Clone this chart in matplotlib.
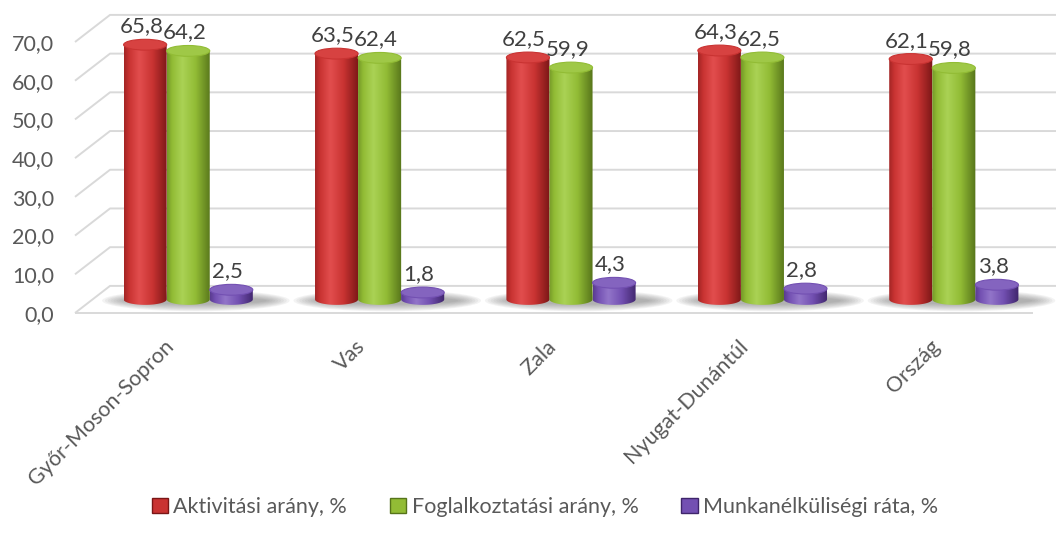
import numpy as np
import matplotlib
matplotlib.use("Agg")
import matplotlib.pyplot as plt
from matplotlib.patches import Ellipse, Patch, PathPatch
from matplotlib.path import Path
from matplotlib.colors import LinearSegmentedColormap, to_rgb
from matplotlib.transforms import ScaledTranslation

categories = ["Győr-Moson-Sopron", "Vas", "Zala", "Nyugat-Dunántúl", "Ország"]
aktivitasi = [65.8, 63.5, 62.5, 64.3, 62.1]
foglalkoztatasi = [64.2, 62.4, 59.9, 62.5, 59.8]
munkanelkuli = [2.5, 1.8, 4.3, 2.8, 3.8]
series_names = ["Aktivitási arány, %", "Foglalkoztatási arány, %", "Munkanélküliségi ráta, %"]
y_ticks = [0, 10, 20, 30, 40, 50, 60, 70]

# (dark edge, body, highlight) per series
shades = [
    ("#7a1616", "#c93332", "#e24e4e"),
    ("#56741a", "#92bc35", "#aad255"),
    ("#3f256b", "#7350b2", "#9275c9"),
]

plt.rcParams["font.family"] = ["Lato", "DejaVu Sans"]
TXT = "#595959"

W, H = 1056, 546
fig = plt.figure(figsize=(W / 100, H / 100), dpi=100)

# pixel frame of the front floor: categories 0..5 -> x 75..1032, values 0..70 -> y 313..42
px_cat = (1032 - 75) / 5
px_val = (313 - 42) / 70
XL = (0, 5.25)
YL = (-5, 78)
left = 75 + XL[0] * px_cat
right = 75 + XL[1] * px_cat
bot = 313 - YL[0] * px_val
top = 313 - YL[1] * px_val
ax = fig.add_axes([left / W, 1 - bot / H, (right - left) / W, (bot - top) / H])
ax.set_xlim(*XL)
ax.set_ylim(*YL)

DX, DY = 0.183, 7.0   # depth offset of the back wall
BW = 0.225            # bar width
EH = 2.8              # ellipse height (value units)

# grid: front diagonal + back wall line
for v in y_ticks:
    ax.plot([0, DX, 5 + DX + 0.2], [v, v + DY, v + DY], color="#d9d9d9", lw=1.4,
            zorder=1, clip_on=False, solid_capstyle="butt")
ax.plot([0, 5], [0, 0], color="#d9d9d9", lw=1.4, zorder=1)


def mix(c1, c2, f):
    a, b = np.array(to_rgb(c1)), np.array(to_rgb(c2))
    return tuple(a * (1 - f) + b * f)


def cylinder(xc, base, height, shade, z):
    dark, mid, light = shade
    x0, x1 = xc - BW / 2, xc + BW / 2
    tp = base + height
    cmap = LinearSegmentedColormap.from_list(
        "cyl", [(0, mix(dark, mid, 0.5)), (0.12, mid), (0.35, light), (0.65, mid), (1, dark)])
    grad = np.linspace(0, 1, 256)[None, :]
    im = ax.imshow(grad, extent=[x0, x1, base - EH, tp], cmap=cmap, aspect="auto",
                   interpolation="bicubic", zorder=z)
    t = np.linspace(np.pi, 2 * np.pi, 40)
    verts = [(x0, tp)] + list(zip(xc + BW / 2 * np.cos(t), base + EH / 2 * np.sin(t))) + [(x1, tp), (x0, tp)]
    clip = PathPatch(Path(verts), transform=ax.transData)
    im.set_clip_path(clip)
    ax.add_patch(Ellipse((xc, tp), BW, EH, facecolor=mix(mid, light, 0.55),
                         edgecolor=mid, lw=0.8, zorder=z + 0.1))


series = [aktivitasi, foglalkoztatasi, munkanelkuli]
base = DY / 2
for i, cat in enumerate(categories):
    gc = i + 0.5 + DX / 2
    # soft floor shadow
    for k in range(9):
        ax.add_patch(Ellipse((gc + 0.04, base - 0.3), 0.98 - k * 0.03, 5.5 - k * 0.45,
                             facecolor="#6f6f6f", edgecolor="none", alpha=0.08, zorder=2))
    for s, vals in enumerate(series):
        xc = gc + (s - 1) * BW
        cylinder(xc, base, vals[i], shades[s], 3 + s * 0.01 + i * 0.1)
        ax.text(xc - 0.02, base + vals[i] + EH / 2 + 1.8, f"{vals[i]:.1f}".replace(".", ","),
                ha="center", va="baseline", fontsize=16, color="#404040", zorder=10)

ax.set_yticks(y_ticks, labels=[f"{v:.1f}".replace(".", ",") for v in y_ticks])
ax.set_xticks([i + 0.5 for i in range(len(categories))])
ax.set_xticklabels(categories, rotation=45, ha="right", va="top", rotation_mode="anchor")
ax.tick_params(axis="both", length=0, labelsize=15.5, labelcolor=TXT)
ax.tick_params(axis="y", pad=15)
ax.tick_params(axis="x", pad=0)
shift = ScaledTranslation(-0.07, -0.04, fig.dpi_scale_trans)
for lbl in ax.get_xticklabels():
    lbl.set_transform(lbl.get_transform() + shift)
for sp in ax.spines.values():
    sp.set_visible(False)
ax.set_facecolor("none")

handles = [Patch(facecolor=sh[1], edgecolor=sh[0], label=n) for sh, n in zip(shades, series_names)]
fig.legend(handles=handles, loc="center", bbox_to_anchor=(0.516, 1 - 507 / H), ncol=3,
           frameon=False, fontsize=15.5, labelcolor=TXT, handlelength=0.75, handleheight=0.75,
           handletextpad=0.25, columnspacing=2.0)

fig.savefig("out.png", dpi=100)
